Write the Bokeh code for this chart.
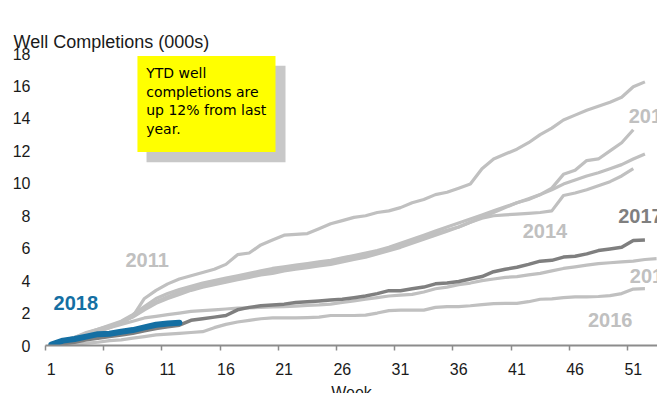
from bokeh.plotting import figure
from bokeh.models import FixedTicker, BoxAnnotation, Label, ColumnDataSource, Range1d, Title
from bokeh.layouts import column
from bokeh.embed import file_html
from bokeh.resources import INLINE
from bokeh.core.properties import value

weeks52 = list(range(1, 53))
weeks51 = list(range(1, 52))
weeks53 = list(range(1, 54))
weeks12 = list(range(1, 13))

y2011 = [0, 0.3, 0.5, 0.8, 1.0, 1.2, 1.4, 1.8, 2.9, 3.4, 3.8, 4.1, 4.3, 4.5, 4.7, 5.0,
         5.6, 5.7, 6.2, 6.5, 6.8, 6.85, 6.9, 7.2, 7.5, 7.7, 7.9, 8.0, 8.2, 8.3, 8.5, 8.8,
         9.0, 9.3, 9.45, 9.7, 9.95, 10.9, 11.5, 11.8, 12.1, 12.5, 13.0, 13.4, 13.9, 14.2,
         14.5, 14.75, 15.0, 15.3, 15.95, 16.25]
y2012 = [0, 0.2, 0.4, 0.6, 0.85, 1.1, 1.4, 1.8, 2.3, 2.7, 3.0, 3.3, 3.5, 3.7, 3.9, 4.0,
         4.15, 4.3, 4.5, 4.6, 4.7, 4.85, 4.95, 5.0, 5.1, 5.3, 5.45, 5.6, 5.8, 6.0, 6.2, 6.45,
         6.7, 6.9, 7.1, 7.3, 7.6, 7.9, 8.2, 8.5, 8.8, 9.0, 9.3, 9.7, 10.55, 10.8, 11.4, 11.5,
         12.0, 12.5, 13.3]
y2013 = [0, 0.25, 0.5, 0.75, 1.0, 1.25, 1.5, 1.9, 2.4, 2.9, 3.2, 3.45, 3.65, 3.85, 4.0, 4.15,
         4.3, 4.45, 4.6, 4.75, 4.85, 4.95, 5.05, 5.15, 5.25, 5.4, 5.55, 5.7, 5.85, 6.05, 6.3,
         6.55, 6.8, 7.05, 7.3, 7.55, 7.8, 8.05, 8.3, 8.55, 8.8, 9.05, 9.3, 9.6, 9.95, 10.2,
         10.45, 10.65, 10.9, 11.15, 11.5, 11.8]
y2014 = [0, 0.2, 0.45, 0.7, 0.95, 1.2, 1.45, 1.75, 2.2, 2.6, 2.9, 3.15, 3.4, 3.6, 3.75, 3.9,
         4.05, 4.2, 4.35, 4.45, 4.6, 4.7, 4.8, 4.9, 5.0, 5.15, 5.3, 5.45, 5.65, 5.85, 6.05,
         6.3, 6.55, 6.8, 7.05, 7.3, 7.6, 7.85, 8.0, 8.05, 8.1, 8.15, 8.2, 8.3, 9.25, 9.4, 9.6,
         9.85, 10.1, 10.45, 10.9]
y2015 = [0, 0.15, 0.35, 0.6, 0.9, 1.1, 1.3, 1.5, 1.7, 1.8, 1.9, 2.0, 2.1, 2.15, 2.2, 2.25,
         2.3, 2.32, 2.35, 2.38, 2.4, 2.43, 2.47, 2.5, 2.55, 2.65, 2.75, 2.85, 2.95, 3.05, 3.1,
         3.15, 3.3, 3.5, 3.6, 3.75, 3.85, 4.0, 4.1, 4.2, 4.25, 4.35, 4.45, 4.6, 4.75, 4.85,
         4.95, 5.05, 5.1, 5.15, 5.2, 5.3, 5.35]
y2016 = [0, 0.05, 0.1, 0.15, 0.2, 0.3, 0.35, 0.45, 0.55, 0.65, 0.7, 0.75, 0.8, 0.85, 1.1, 1.3,
         1.45, 1.55, 1.65, 1.7, 1.7, 1.7, 1.72, 1.75, 1.85, 1.85, 1.85, 1.87, 2.0, 2.15, 2.18,
         2.18, 2.18, 2.35, 2.4, 2.4, 2.45, 2.52, 2.58, 2.6, 2.6, 2.7, 2.85, 2.87, 2.95, 3.0,
         3.0, 3.02, 3.07, 3.2, 3.48, 3.5]
y2017 = [0, 0.1, 0.2, 0.35, 0.45, 0.55, 0.65, 0.75, 0.9, 1.05, 1.15, 1.25, 1.55, 1.65, 1.75,
         1.85, 2.2, 2.35, 2.45, 2.5, 2.55, 2.65, 2.7, 2.75, 2.8, 2.85, 2.95, 3.05, 3.2, 3.38,
         3.38, 3.5, 3.6, 3.8, 3.85, 3.95, 4.1, 4.25, 4.55, 4.7, 4.82, 5.0, 5.2, 5.25, 5.45,
         5.5, 5.65, 5.85, 5.95, 6.05, 6.47, 6.5]
y2018 = [0.05, 0.3, 0.4, 0.55, 0.7, 0.72, 0.85, 0.95, 1.12, 1.28, 1.36, 1.4]

x_tick_labels = [1, 6, 11, 16, 21, 26, 31, 36, 41, 46, 51]
y_ticks = [0, 2, 4, 6, 8, 10, 12, 14, 16, 18]

label_text = ["2011", "2018", "2014", "2016", "2017", "2015", "2012"]
label_x = [7.37, 1.19, 41.5, 47.1, 49.7, 50.7, 50.6]
label_y = [5.29, 2.63, 7.06, 1.58, 7.98, 4.27, 14.17]
label_color = ["#c0c0c0", "#146fa3", "#c0c0c0", "#c0c0c0", "#7f7f7f", "#c0c0c0", "#c0c0c0"]

note_lines = ["YTD well", "completions are", "up 12% from last", "year."]
note_y = [16.77, 15.63, 14.50, 13.37]

LIGHT = "#c0c0c0"
DARK = "#7f7f7f"
BLUE = "#146fa3"

# thin grey strip along the top of the page
bar = figure(width=657, height=4, output_backend="svg", toolbar_location=None,
             min_border=0, background_fill_color="#b4b4b4", border_fill_color="#b4b4b4")
bar.axis.visible = False
bar.grid.visible = False
bar.outline_line_color = None

p = figure(width=657, height=399, output_backend="svg", toolbar_location=None, title=None,
           x_range=Range1d(0.5, 53.08), y_range=Range1d(0, 18),
           min_border_left=45, min_border_right=0, min_border_top=49)
p.outline_line_color = None
p.xgrid.grid_line_color = None
p.ygrid.grid_line_color = None

# invisible spacer next to the plot area, then the title above it
p.add_layout(Title(text=" ", text_font="Liberation Sans", text_font_size="18px",
                   text_alpha=0, standoff=6), "above")
p.add_layout(Title(text="Well Completions (000s)", text_font="Liberation Sans",
                   text_font_size="18px", text_font_style="normal", text_color="#1a1a1a",
                   align="left", vertical_align="top", offset=-32, standoff=0), "above")

for ys, xs in [(y2011, weeks52), (y2012, weeks51), (y2013, weeks52), (y2014, weeks51),
               (y2015, weeks53), (y2016, weeks52)]:
    p.line(xs, ys, line_color=LIGHT, line_width=3.2, line_join="round")
p.line(weeks52, y2017, line_color=DARK, line_width=3.5, line_join="round")
p.line(weeks12, y2018, line_color=BLUE, line_width=6, line_join="round", line_cap="round")

src = ColumnDataSource(dict(x=label_x, y=label_y, t=label_text, c=label_color))
p.text("x", "y", text="t", text_color="c", source=src, text_font=value("Liberation Sans"),
       text_font_size="20px", text_font_style="bold", text_baseline="middle")

p.add_layout(BoxAnnotation(left=9.18, right=21.12, top=17.25, bottom=11.29,
                           fill_color="#c8c8c8", fill_alpha=1, line_color=None))
p.add_layout(BoxAnnotation(left=8.40, right=20.26, top=17.85, bottom=11.93,
                           fill_color="#ffff00", fill_alpha=1, line_color=None))
for line, ly in zip(note_lines, note_y):
    p.add_layout(Label(x=9.15, y=ly, text=line, text_font="DejaVu Sans",
                       text_font_size="14px", text_color="#000000",
                       text_baseline="middle"))

xa = p.xaxis[0]
xa.ticker = FixedTicker(ticks=x_tick_labels, minor_ticks=[0.5 + 5 * i for i in range(11)])
xa.axis_line_color = "#8c8c8c"
xa.axis_line_width = 2
xa.major_tick_line_color = None
xa.minor_tick_line_color = "#8c8c8c"
xa.minor_tick_line_width = 1.5
xa.minor_tick_in = 0
xa.minor_tick_out = 5
xa.major_label_standoff = 11
xa.major_label_text_font = "Liberation Sans"
xa.major_label_text_font_size = "16px"
xa.major_label_text_color = "#1a1a1a"
xa.axis_label = "Week"
xa.axis_label_text_font = "Liberation Sans"
xa.axis_label_text_font_size = "16px"
xa.axis_label_text_font_style = "normal"
xa.axis_label_text_color = "#1a1a1a"
xa.axis_label_standoff = 6

ya = p.yaxis[0]
ya.ticker = FixedTicker(ticks=y_ticks)
ya.axis_line_color = None
ya.major_tick_line_color = None
ya.minor_tick_line_color = None
ya.major_label_standoff = 9
ya.major_label_text_font = "Liberation Sans"
ya.major_label_text_font_size = "16px"
ya.major_label_text_color = "#1a1a1a"

page = column(bar, p, spacing=0)
open("out.html", "w").write(file_html(page, INLINE))
